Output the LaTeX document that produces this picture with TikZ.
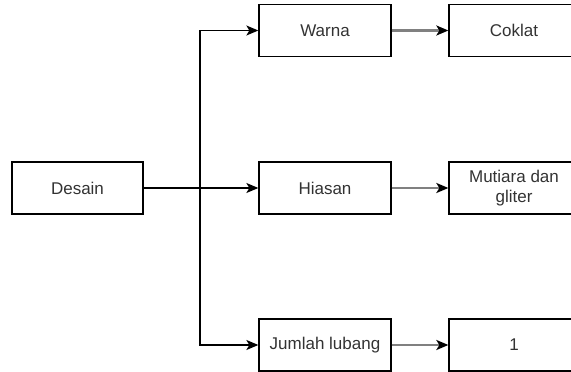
\documentclass[tikz,border=0pt]{standalone}
\usepackage{fontspec}
\setmainfont{Liberation Sans}
\usetikzlibrary{arrows.meta}
\definecolor{txt}{HTML}{333333}
\definecolor{link}{HTML}{808080}
\begin{document}
\begin{tikzpicture}[x=1pt,y=-1pt,
  box/.style={draw=black, line width=1.3pt, fill=white, rectangle,
    minimum width=131pt, minimum height=52pt, inner sep=0pt,
    text=txt, font=\fontsize{17}{20}\selectfont, align=center},
  tip/.style={-{Stealth[length=12pt,width=10pt,inset=3pt,black]}},
  trunk/.style={tip, draw=black, line width=1.3pt},
  feed/.style={tip, draw=link, line width=2.2pt}]
\useasboundingbox (0,0) rectangle (571,372);
\begin{scope}
\clip (0,0) rectangle (571,372);
% root
\node[box] (desain) at (77.5,188) {Desain};
% attributes
\node[box, minimum width=132pt] (warna)  at (325,30.5) {Warna};
\node[box, minimum width=132pt] (hiasan) at (325,188)  {Hiasan};
\node[box, minimum width=132pt] (jumlah) at (325,345)  {Jumlah lubang};
% values
\node[box, minimum width=130pt] (coklat)  at (514,30.5) {Coklat};
\node[box, minimum width=130pt] (mutiara) at (514,188)  {Mutiara dan\\gliter};
\node[box, minimum width=130pt] (satu)    at (514,345)  {1};
% branching connectors
\coordinate (split) at (200,188);
\draw[trunk] (desain.east) -- (hiasan.west);
\draw[trunk] (split) |- (warna.west);
\draw[trunk] (split) |- (jumlah.west);
% attribute to value
\draw[feed] (warna.east)  -- (coklat.west);
\draw[feed] (hiasan.east) -- (mutiara.west);
\draw[feed] (jumlah.east) -- (satu.west);
\end{scope}
\end{tikzpicture}
\end{document}
